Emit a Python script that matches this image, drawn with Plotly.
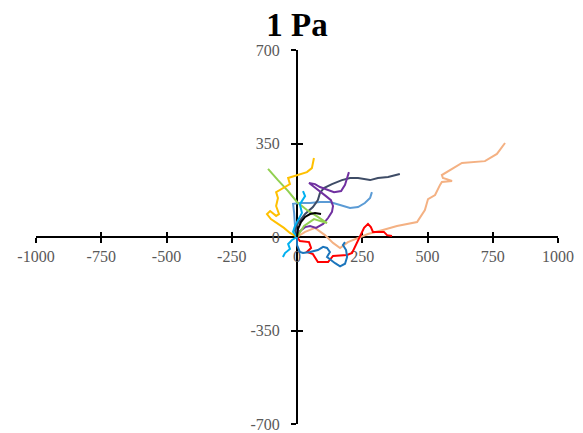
import plotly.graph_objects as go

# ---- data ----
x_ticks = [-1000, -750, -500, -250, 0, 250, 500, 750, 1000]
y_ticks = [-700, -350, 0, 350, 700]

peach_x = [0, 31, 69, 107, 138, 165, 195, 234, 272, 329, 383, 460, 490, 502, 529, 548, 555, 594, 559, 555, 586, 632, 720, 766, 797]
peach_y = [0, 19, 34, 7, -22, -41, -19, -4, 11, 26, 41, 56, 101, 142, 157, 195, 206, 210, 221, 232, 251, 277, 284, 311, 352]

red_x = [0, 11, 46, 54, 38, 61, 80, 119, 138, 192, 211, 230, 245, 257, 272, 283, 291, 333, 345, 364]
red_y = [0, -15, -19, -41, -56, -64, -94, -94, -71, -67, -60, -22, 7, 34, 49, 37, 19, 19, 7, 4]

blue_x = [0, 0, 11, 23, 50, 80, 100, 115, 126, 115, 146, 165, 184, 192, 188, 176, 184]
blue_y = [0, -30, -56, -60, -56, -49, -37, -41, -56, -75, -98, -110, -100, -75, -49, -30, -19]

cyan_up_x = [0, -15, -8, 4, 19, 11, 31, 23]
cyan_up_y = [0, 19, 41, 64, 90, 123, 153, 172]

cyan_down_x = [0, -19, -34, -27, -46, -54]
cyan_down_y = [0, -11, -26, -45, -60, -75]

yellow_x = [0, -27, -50, -73, -100, -115, -103, -80, -69, -80, -73, -80, -54, -27, -34, -8, 38, 57, 61, 65]
yellow_y = [0, 15, 34, 49, 67, 86, 97, 79, 86, 116, 146, 168, 183, 198, 221, 228, 243, 258, 281, 296]

green_x = [0, 27, 65, 115, 80, 38, 0, -34, -73, -111]
green_y = [0, 41, 67, 52, 75, 101, 131, 172, 213, 255]

black_x = [0, 4, 15, 31, 50, 69, 92]
black_y = [0, 30, 56, 75, 86, 90, 86]

navy_x = [0, -8, 4, 31, 61, 80, 88, 103, 134, 172, 203, 234, 280, 310, 349, 394]
navy_y = [0, 26, 52, 86, 112, 138, 165, 183, 198, 213, 221, 221, 213, 221, 225, 236]

purple_x = [0, 11, 31, 50, 73, 100, 119, 134, 138, 130, 111, 88, 61, 46, 69, 88, 115, 142, 169, 184, 192, 199]
purple_y = [0, 22, 37, 41, 34, 49, 71, 94, 116, 138, 153, 172, 191, 202, 198, 187, 176, 168, 172, 195, 221, 243]

steel_x = [0, -8, -11, -15, 11, 50, 88, 126, 165, 203, 234, 260, 280, 287]
steel_y = [0, 45, 90, 124, 127, 127, 131, 131, 120, 109, 112, 127, 146, 168]

series = [
    (peach_x, peach_y, "#F4B183"),
    (red_x, red_y, "#FF0000"),
    (blue_x, blue_y, "#1B75BC"),
    (steel_x, steel_y, "#5B9BD5"),
    (navy_x, navy_y, "#3E4C66"),
    (purple_x, purple_y, "#7030A0"),
    (green_x, green_y, "#92D050"),
    (yellow_x, yellow_y, "#FFC000"),
    (cyan_up_x, cyan_up_y, "#00B0F0"),
    (cyan_down_x, cyan_down_y, "#00B0F0"),
    (black_x, black_y, "#000000"),
]

fig = go.Figure()
for xs, ys, col in series:
    fig.add_trace(go.Scatter(x=xs, y=ys, mode="lines",
                             line=dict(color=col, width=2), showlegend=False,
                             hoverinfo="skip"))
# empty helper trace so the overlay axes (upper/right halves of tick marks) exist
fig.add_trace(go.Scatter(x=[None], y=[None], xaxis="x2", yaxis="y2",
                         mode="lines", showlegend=False, hoverinfo="skip"))

serif = "Liberation Serif, Times New Roman, serif"
tickfont = dict(family=serif, size=16, color="#595959")

common_x = dict(range=[-1000, 1000], tickvals=x_ticks, showgrid=False,
                zeroline=False, anchor="free", position=0.5, fixedrange=True,
                automargin=False)
common_y = dict(range=[-700, 700], tickvals=y_ticks, showgrid=False,
                zeroline=False, anchor="free", position=0.5, fixedrange=True,
                automargin=False)

# the page body keeps its default 8px margin, so the figure is sized to fit
fig.update_layout(
    width=575, height=425,
    margin=dict(l=28, r=25, t=42, b=9, autoexpand=False),
    paper_bgcolor="white", plot_bgcolor="white",
    title=dict(text="<b>1 Pa</b>", x=0.5, xanchor="center", y=0.962, yanchor="middle",
               xref="paper",
               font=dict(family=serif, size=33, color="black")),
    xaxis=dict(**common_x, showline=True, linecolor="black", linewidth=2,
               ticks="outside", ticklen=5, tickwidth=2, tickcolor="black",
               ticktext=[str(v) for v in x_ticks], tickfont=tickfont,
               ticklabelstandoff=0, layer="below traces"),
    yaxis=dict(**common_y, showline=True, linecolor="black", linewidth=2,
               ticks="outside", ticklen=5, tickwidth=2, tickcolor="black",
               ticktext=[str(v) for v in y_ticks], tickfont=tickfont,
               ticklabelstandoff=8, layer="below traces"),
    xaxis2=dict(**common_x, overlaying="x", showline=False, ticks="inside",
                ticklen=5, tickwidth=2, tickcolor="black", showticklabels=False,
                layer="below traces"),
    yaxis2=dict(**common_y, overlaying="y", showline=False, ticks="inside",
                ticklen=5, tickwidth=2, tickcolor="black", showticklabels=False,
                layer="below traces"),
)

fig.write_html("out.html")
